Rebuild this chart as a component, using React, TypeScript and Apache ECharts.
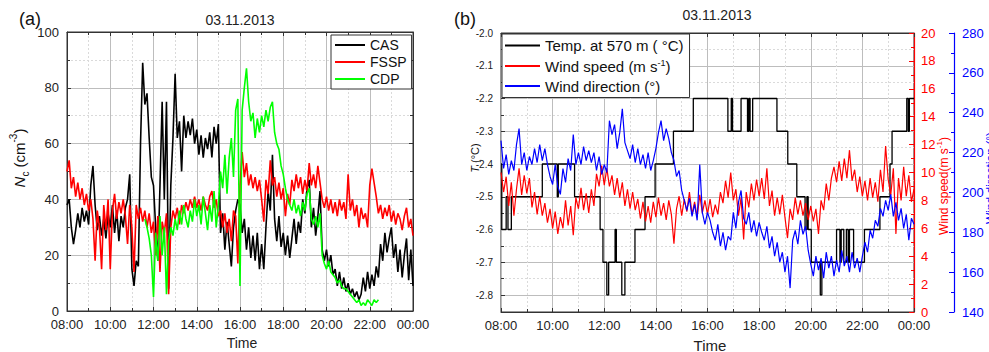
import React, { useEffect, useRef } from "react";
import * as echarts from "echarts";

// ---------- DATA ----------
const startHour = 8;
const stepHour = 0.1;

// Panel (a): droplet number concentration (cm^-3), sampled every 0.1 h from 08:00 to 24:00
const casValues = [
  38, 40, 30, 24, 29, 35, 30, 37, 32, 36, // 08
  31, 45, 52, 38, 29, 34, 27, 33, 26, 35, // 09
  30, 38, 28, 36, 25, 34, 30, 37, 40, 49, // 10
  15, 9, 18, 16, 60, 89, 74, 78, 62, 48, // 11
  45, 30, 18, 45, 75, 40, 75, 8, 45, 62, // 12
  85, 62, 68, 50, 70, 62, 68, 63, 69, 60, // 13
  65, 56, 63, 55, 62, 58, 64, 55, 66, 60, // 14
  67, 28, 35, 22, 32, 24, 16, 30, 36, 40, // 15
  38, 28, 33, 22, 30, 19, 27, 18, 28, 15, // 16
  24, 15, 30, 43, 36, 56, 33, 25, 34, 23, // 17
  28, 20, 27, 19, 26, 33, 24, 32, 28, 40, // 18
  35, 44, 47, 30, 37, 27, 34, 43, 22, 18, // 19
  22, 16, 20, 13, 15, 9, 14, 8, 12, 7, // 20
  10, 6, 8, 5, 7, 4, 6, 12, 7, 14, // 21
  8, 13, 9, 16, 12, 24, 18, 28, 21, 26, // 22
  30, 19, 24, 14, 22, 12, 20, 26, 11, 22, // 23
  9,
];
const fsspValues = [
  50, 54, 44, 48, 41, 46, 40, 44, 38, 42, // 08
  36, 40, 33, 18, 36, 30, 15, 38, 29, 40, // 09
  15, 36, 42, 33, 39, 35, 40, 34, 24, 38, // 10
  30, 14, 38, 33, 37, 32, 36, 30, 35, 28, // 11
  32, 20, 34, 14, 32, 28, 35, 6, 30, 36, // 12
  33, 37, 31, 38, 35, 39, 36, 40, 37, 41, // 13
  37, 40, 36, 41, 38, 36, 41, 43, 37, 40, // 14
  34, 36, 30, 35, 28, 33, 25, 36, 34, 17, // 15
  45, 57, 48, 53, 45, 49, 44, 48, 43, 47, // 16
  40, 32, 47, 42, 54, 45, 48, 41, 46, 40, // 17
  44, 34, 42, 38, 47, 43, 49, 44, 48, 42, // 18
  47, 43, 53, 45, 49, 44, 52, 46, 40, 37, // 19
  41, 36, 40, 35, 39, 34, 40, 36, 39, 33, // 20
  49, 36, 40, 34, 38, 30, 37, 33, 35, 30, // 21
  45, 51, 46, 41, 35, 38, 33, 37, 34, 38, // 22
  32, 36, 31, 35, 33, 29, 34, 37, 30, 33, // 23
  27,
];
const cdpStartHour = 11.6;
const cdpValues = [
  33, 30, 26, 20, // 11.6 - 11.9
  5, 28, 18, 34, 20, 30, 6, 25, 30, 27, // 12
  33, 29, 36, 31, 38, 33, 30, 36, 32, 40, // 13
  34, 38, 31, 41, 35, 29, 38, 32, 43, 30, // 14
  38, 50, 44, 56, 42, 55, 62, 48, 72, 76, // 15
  9, 72, 80, 87, 75, 68, 71, 62, 69, 64, // 16
  70, 66, 72, 68, 73, 75, 64, 60, 58, 52, // 17
  49, 44, 40, 38, 36, 40, 35, 38, 34, 39, // 18
  36, 42, 44, 33, 31, 34, 30, 35, 20, 17, // 19
  15, 18, 14, 13, 12, 10, 11, 9, 8, 8, // 20
  7, 6, 5, 4, 3, 4, 2, 3, 2, 4, // 21
  3, 2, 4, 3, 4, // 22.0 - 22.4
];

// Panel (b): temperature at 570 m (step record: change times and levels)
const tempTimes = [
  8.0, 8.03, 8.2, 8.27, 8.4, 9.6, 10.18, 10.22, 10.85, 11.84,
  11.95, 12.1, 12.17, 12.42, 12.47, 12.68, 12.8, 13.19, 13.58, 13.97,
  14.68, 15.45, 16.79, 16.92, 16.97, 17.3, 17.55, 17.6, 17.65, 17.75,
  18.69, 19.11, 19.46, 19.78, 19.85, 19.9, 20.02, 20.37, 20.43, 21.0,
  21.13, 21.18, 21.28, 21.38, 21.45, 21.5, 21.66, 22.08, 22.68, 23.07,
  23.15, 23.72, 23.78, 23.82, 24.0,
];
const tempValues = [
  -2.4, -2.6, -2.5, -2.6, -2.5, -2.4, -2.5, -2.4, -2.5, -2.6,
  -2.7, -2.8, -2.7, -2.6, -2.7, -2.8, -2.7, -2.6, -2.5, -2.4,
  -2.3, -2.2, -2.3, -2.2, -2.3, -2.2, -2.3, -2.2, -2.3, -2.2,
  -2.3, -2.4, -2.5, -2.6, -2.5, -2.6, -2.7, -2.8, -2.7, -2.6,
  -2.7, -2.6, -2.7, -2.6, -2.7, -2.6, -2.7, -2.6, -2.5, -2.4,
  -2.3, -2.2, -2.3, -2.2, -2.2,
];
// Wind speed (m s-1), every 0.1 h
const windSpeedValues = [
  10.0, 8.6, 9.7, 7.6, 9.3, 6.9, 8.8, 10.3, 8.4, 9.8, // 08
  8.5, 9.6, 7.5, 8.6, 7.0, 8.3, 6.9, 7.8, 6.4, 7.4, // 09
  6.0, 7.2, 5.6, 6.8, 6.0, 8.0, 6.2, 7.6, 5.5, 8.2, // 10
  7.4, 8.9, 7.3, 8.5, 7.1, 8.8, 7.6, 9.9, 9.0, 10.5, // 11
  9.1, 10.3, 9.0, 9.8, 8.4, 9.6, 8.2, 9.3, 7.6, 8.8, // 12
  7.4, 8.6, 7.3, 8.1, 6.7, 7.9, 6.5, 7.6, 6.4, 7.9, // 13
  6.8, 8.2, 6.9, 7.8, 6.6, 8.0, 7.0, 4.9, 7.4, 8.3, // 14
  6.9, 8.1, 7.2, 8.6, 7.0, 7.9, 6.8, 8.4, 7.1, 8.0, // 15
  7.0, 8.1, 6.8, 7.7, 7.0, 8.6, 7.8, 9.4, 8.2, 10.0, // 16
  8.0, 8.8, 6.9, 8.2, 5.2, 8.6, 7.5, 9.2, 8.0, 9.5, // 17
  8.3, 9.6, 8.1, 10.3, 7.6, 8.7, 6.9, 8.2, 7.0, 8.4, // 18
  6.8, 5.3, 7.4, 6.6, 8.2, 7.0, 8.0, 6.9, 7.8, 6.6, // 19
  7.6, 6.5, 7.4, 5.6, 8.0, 7.3, 9.2, 8.0, 9.6, 10.4, // 20
  9.3, 10.8, 9.4, 11.0, 9.6, 11.6, 9.4, 10.2, 8.6, 9.7, // 21
  8.3, 9.4, 8.0, 9.6, 8.2, 9.3, 7.9, 10.2, 8.6, 11.9, // 22
  9.5, 8.4, 10.3, 5.6, 9.6, 8.0, 10.4, 8.3, 9.8, 7.9, // 23
  8.8,
];
// Wind direction (deg), every 0.1 h
const windDirValues = [
  226, 212, 219, 209, 216, 211, 224, 232, 214, 220, // 08
  211, 218, 214, 222, 215, 224, 216, 222, 214, 208, // 09
  204, 214, 203, 199, 212, 205, 217, 211, 229, 214, // 10
  220, 214, 223, 216, 221, 215, 220, 211, 218, 209, // 11
  214, 210, 236, 229, 234, 222, 230, 242, 225, 221, // 12
  217, 224, 215, 222, 214, 219, 212, 220, 211, 216, // 13
  222, 230, 236, 226, 232, 227, 220, 216, 208, 211, // 14
  201, 196, 191, 197, 188, 194, 186, 214, 190, 184, // 15
  190, 186, 180, 176, 184, 173, 180, 171, 178, 176, // 16
  190, 182, 195, 201, 187, 184, 190, 180, 186, 178, // 17
  185, 180, 176, 183, 172, 178, 168, 175, 165, 170, // 18
  160, 168, 152, 176, 181, 174, 186, 179, 183, 171, // 19
  164, 158, 168, 161, 167, 157, 170, 162, 168, 158, // 20
  166, 160, 171, 163, 168, 160, 170, 162, 167, 160, // 21
  168, 175, 170, 181, 177, 186, 183, 192, 188, 196, // 22
  191, 199, 188, 195, 186, 192, 182, 189, 176, 187, // 23
  184,
];

const leftTicks = { min: 0, max: 100, interval: 20 };
const timeTicks = { min: 8, max: 24, interval: 2 };
const tempTicks = { min: -2.8, max: -2.0, interval: 0.1 };
const speedTicks = { min: 0, max: 20, interval: 2 };
const dirTicks = { min: 140, max: 280, interval: 20 };

// ---------- HELPERS ----------
const FONT = "'Liberation Sans', Arial, Helvetica, sans-serif";
const pairs = (start: number, vals: number[]) =>
  vals.map((v, i) => [Math.round((start + i * stepHour) * 100) / 100, v]);
const hourLabel = (v: number) => {
  const h = Math.round(v) % 24;
  return (h < 10 ? "0" : "") + h + ":00";
};

const GRID_SOLID = "#bdbdbd";
const GRID_DASH = "#dadada";
const AXIS = "#333";

function timeAxis(gridIndex: number, position: "bottom" | "top", labels: boolean, grid: boolean, labelMargin = 6, show = true) {
  return {
    type: "value",
    gridIndex,
    position,
    show,
    min: timeTicks.min,
    max: timeTicks.max,
    interval: timeTicks.interval,
    axisLine: { show: true, onZero: false, lineStyle: { color: AXIS, width: 1 } },
    axisTick: { show: true, inside: true, length: 4, lineStyle: { color: AXIS } },
    minorTick: { show: true, splitNumber: 2, length: 3, lineStyle: { color: AXIS } },
    axisLabel: {
      show: labels,
      formatter: hourLabel,
      fontSize: 13,
      color: "#222",
      fontFamily: FONT,
      margin: labelMargin,
    },
    splitLine: { show: grid, lineStyle: { color: GRID_SOLID, width: 1 } },
    minorSplitLine: { show: grid, lineStyle: { color: GRID_DASH, width: 1, type: [2, 2] } },
  };
}

export default function App() {
  const ref = useRef<HTMLDivElement>(null);

  useEffect(() => {
    if (!ref.current) return;
    const chart = echarts.init(ref.current, null, { renderer: "svg" });

    const cas = pairs(startHour, casValues);
    const fssp = pairs(startHour, fsspValues);
    const cdp = pairs(cdpStartHour, cdpValues);
    const temp = tempTimes.map((t, i) => [t, tempValues[i]]);
    const speed = pairs(startHour, windSpeedValues);
    const dir = pairs(startHour, windDirValues);

    const option: any = {
      animation: false,
      backgroundColor: "#fff",
      textStyle: { fontFamily: FONT },
      grid: [
        { left: 67, top: 32, width: 346, height: 279, show: true, borderColor: AXIS, borderWidth: 1, backgroundColor: "transparent" },
        { left: 501, top: 33, width: 413, height: 279, show: true, borderColor: AXIS, borderWidth: 1, backgroundColor: "transparent" },
        { left: 501, top: 33, width: 413, height: 262, show: false },
      ],
      xAxis: [
        timeAxis(0, "bottom", true, true, 7),
        timeAxis(0, "top", false, false),
        timeAxis(1, "bottom", true, true, 7),
        timeAxis(1, "top", false, false),
        timeAxis(2, "bottom", false, false, 6, false),
      ],
      yAxis: [
        {
          type: "value",
          gridIndex: 0,
          position: "left",
          min: leftTicks.min,
          max: leftTicks.max,
          interval: leftTicks.interval,
          axisLine: { show: true, onZero: false, lineStyle: { color: AXIS } },
          axisTick: { show: true, inside: true, length: 4, lineStyle: { color: AXIS } },
          minorTick: { show: true, splitNumber: 2, length: 3, lineStyle: { color: AXIS } },
          axisLabel: { fontSize: 13, color: "#222", fontFamily: FONT, margin: 8 },
          splitLine: { show: true, lineStyle: { color: GRID_SOLID, width: 1 } },
          minorSplitLine: { show: true, lineStyle: { color: GRID_DASH, width: 1, type: [2, 2] } },
        },
        {
          type: "value",
          gridIndex: 0,
          position: "right",
          min: leftTicks.min,
          max: leftTicks.max,
          interval: leftTicks.interval,
          axisLine: { show: true, onZero: false, lineStyle: { color: AXIS } },
          axisTick: { show: true, inside: true, length: 4, lineStyle: { color: AXIS } },
          minorTick: { show: true, splitNumber: 2, length: 3, lineStyle: { color: AXIS } },
          axisLabel: { show: false },
          splitLine: { show: false },
        },
        {
          type: "value",
          gridIndex: 1,
          position: "right",
          min: speedTicks.min,
          max: speedTicks.max,
          interval: speedTicks.interval,
          axisLine: { show: true, onZero: false, lineStyle: { color: "#ff0000", width: 1.2 } },
          axisTick: { show: true, inside: true, length: 5, lineStyle: { color: "#ff0000" } },
          minorTick: { show: true, splitNumber: 2, length: 3, lineStyle: { color: "#ff0000" } },
          axisLabel: { fontSize: 13, color: "#ff0000", fontFamily: FONT, margin: 7 },
          splitLine: { show: false },
        },
        {
          type: "value",
          gridIndex: 1,
          position: "right",
          offset: 40,
          min: dirTicks.min,
          max: dirTicks.max,
          interval: dirTicks.interval,
          axisLine: { show: true, onZero: false, lineStyle: { color: "#0000ff", width: 1.2 } },
          axisTick: { show: true, inside: true, length: 5, lineStyle: { color: "#0000ff" } },
          minorTick: { show: true, splitNumber: 2, length: 3, lineStyle: { color: "#0000ff" } },
          axisLabel: { fontSize: 13, color: "#0000ff", fontFamily: FONT, margin: 8 },
          splitLine: { show: false },
        },
        {
          type: "value",
          gridIndex: 2,
          position: "left",
          min: tempTicks.min,
          max: tempTicks.max,
          interval: tempTicks.interval,
          axisLine: { show: false, onZero: false },
          axisTick: { show: true, inside: true, length: 4, lineStyle: { color: AXIS } },
          minorTick: { show: true, splitNumber: 2, length: 3, lineStyle: { color: AXIS } },
          axisLabel: {
            fontSize: 10,
            color: "#222",
            fontFamily: FONT,
            margin: 8,
            formatter: (v: number) => v.toFixed(1),
          },
          splitLine: { show: true, lineStyle: { color: GRID_SOLID, width: 1 } },
          minorSplitLine: { show: true, lineStyle: { color: GRID_DASH, width: 1, type: [2, 2] } },
        },
      ],
      legend: [
        {
          data: ["CAS", "FSSP", "CDP"],
          orient: "vertical",
          left: 331,
          top: 35,
          icon: "rect",
          itemWidth: 30,
          itemHeight: 2,
          itemGap: 1,
          padding: [2, 5, 2, 4],
          borderColor: AXIS,
          borderWidth: 1,
          backgroundColor: "#fff",
          textStyle: { fontSize: 14, color: "#111", fontFamily: FONT, lineHeight: 16 },
        },
        {
          data: ["Temp. at 570 m ( °C)", "Wind speed (m s-1)", "Wind direction (°)"],
          orient: "vertical",
          left: 502,
          top: 34,
          icon: "rect",
          itemWidth: 35,
          itemHeight: 2,
          itemGap: 5,
          padding: [4, 6, 4, 3],
          borderColor: AXIS,
          borderWidth: 1,
          backgroundColor: "#fff",
          formatter: (name: string) =>
            name === "Wind speed (m s-1)" ? "{n|Wind speed (m s}{sup|-1}{n|)}" : "{n|" + name + "}",
          textStyle: {
            fontSize: 15,
            color: "#111",
            fontFamily: FONT,
            rich: {
              n: { fontSize: 15, color: "#111", fontFamily: FONT, lineHeight: 16 },
              sup: { fontSize: 9, color: "#111", fontFamily: FONT, verticalAlign: "top", lineHeight: 16 },
            },
          },
        },
      ],
      series: [
        { name: "CAS", type: "line", xAxisIndex: 0, yAxisIndex: 0, data: cas, showSymbol: false, color: "#000000", lineStyle: { width: 1.6 } },
        { name: "FSSP", type: "line", xAxisIndex: 0, yAxisIndex: 0, data: fssp, showSymbol: false, color: "#ff0000", lineStyle: { width: 1.6 } },
        { name: "CDP", type: "line", xAxisIndex: 0, yAxisIndex: 0, data: cdp, showSymbol: false, color: "#00ff00", lineStyle: { width: 1.6 } },
        { name: "Temp. at 570 m ( °C)", type: "line", step: "end", xAxisIndex: 4, yAxisIndex: 4, data: temp, showSymbol: false, color: "#000000", lineStyle: { width: 1.3 } },
        { name: "Wind speed (m s-1)", type: "line", xAxisIndex: 2, yAxisIndex: 2, data: speed, showSymbol: false, color: "#ff0000", lineStyle: { width: 1.2 } },
        { name: "Wind direction (°)", type: "line", xAxisIndex: 2, yAxisIndex: 3, data: dir, showSymbol: false, color: "#0000ff", lineStyle: { width: 1.2 } },
      ],
      graphic: [
        { type: "text", x: 30, y: 19, style: { text: "(a)", fontSize: 18, fontFamily: FONT, fill: "#111", align: "center", verticalAlign: "middle" } },
        { type: "text", x: 240, y: 20, style: { text: "03.11.2013", fontSize: 14, fontFamily: FONT, fill: "#222", align: "center", verticalAlign: "middle" } },
        { type: "text", x: 242, y: 343, style: { text: "Time", fontSize: 14, fontFamily: FONT, fill: "#222", align: "center", verticalAlign: "middle" } },
        {
          type: "text",
          x: 19,
          y: 158,
          rotation: Math.PI / 2,
          style: {
            text: "{i|N}{sub|c}{n| (cm}{sup|-3}{n|)}",
            align: "center",
            verticalAlign: "middle",
            rich: {
              i: { fontSize: 15, fontStyle: "italic", fontFamily: FONT, fill: "#111", lineHeight: 22 },
              n: { fontSize: 15, fontFamily: FONT, fill: "#111", lineHeight: 22 },
              sub: { fontSize: 10, fontFamily: FONT, fill: "#111", verticalAlign: "bottom", lineHeight: 22 },
              sup: { fontSize: 10, fontFamily: FONT, fill: "#111", verticalAlign: "top", lineHeight: 22 },
            },
          },
        },
        { type: "text", x: 465, y: 19, style: { text: "(b)", fontSize: 18, fontFamily: FONT, fill: "#111", align: "center", verticalAlign: "middle" } },
        { type: "text", x: 717, y: 15, style: { text: "03.11.2013", fontSize: 14, fontFamily: FONT, fill: "#222", align: "center", verticalAlign: "middle" } },
        { type: "text", x: 710, y: 345, style: { text: "Time", fontSize: 15, fontFamily: FONT, fill: "#222", align: "center", verticalAlign: "middle" } },
        {
          type: "text",
          x: 475,
          y: 158,
          rotation: Math.PI / 2,
          style: {
            text: "{i|T}{n| (°C)}",
            align: "center",
            verticalAlign: "middle",
            rich: {
              i: { fontSize: 11, fontStyle: "italic", fontFamily: FONT, fill: "#111" },
              n: { fontSize: 11, fontFamily: FONT, fill: "#111" },
            },
          },
        },
        {
          type: "text",
          x: 944,
          y: 186,
          rotation: Math.PI / 2,
          style: {
            text: "{n|Wind speed(m s}{sup|-1}{n|)}",
            align: "center",
            verticalAlign: "middle",
            rich: {
              n: { fontSize: 12, fontFamily: FONT, fill: "#ff0000", lineHeight: 18 },
              sup: { fontSize: 8, fontFamily: FONT, fill: "#ff0000", verticalAlign: "top", lineHeight: 18 },
            },
          },
        },
        {
          type: "text",
          x: 991,
          y: 178,
          rotation: Math.PI / 2,
          style: { text: "Wind direction (°)", fontSize: 12, fontFamily: FONT, fill: "#0000ff", align: "center", verticalAlign: "middle" },
        },
      ],
    };

    chart.setOption(option);
    return () => chart.dispose();
  }, []);

  return (
    <div
      ref={ref}
      style={{ position: "absolute", left: 0, top: 0, width: 989, height: 352, background: "#fff" }}
    />
  );
}
